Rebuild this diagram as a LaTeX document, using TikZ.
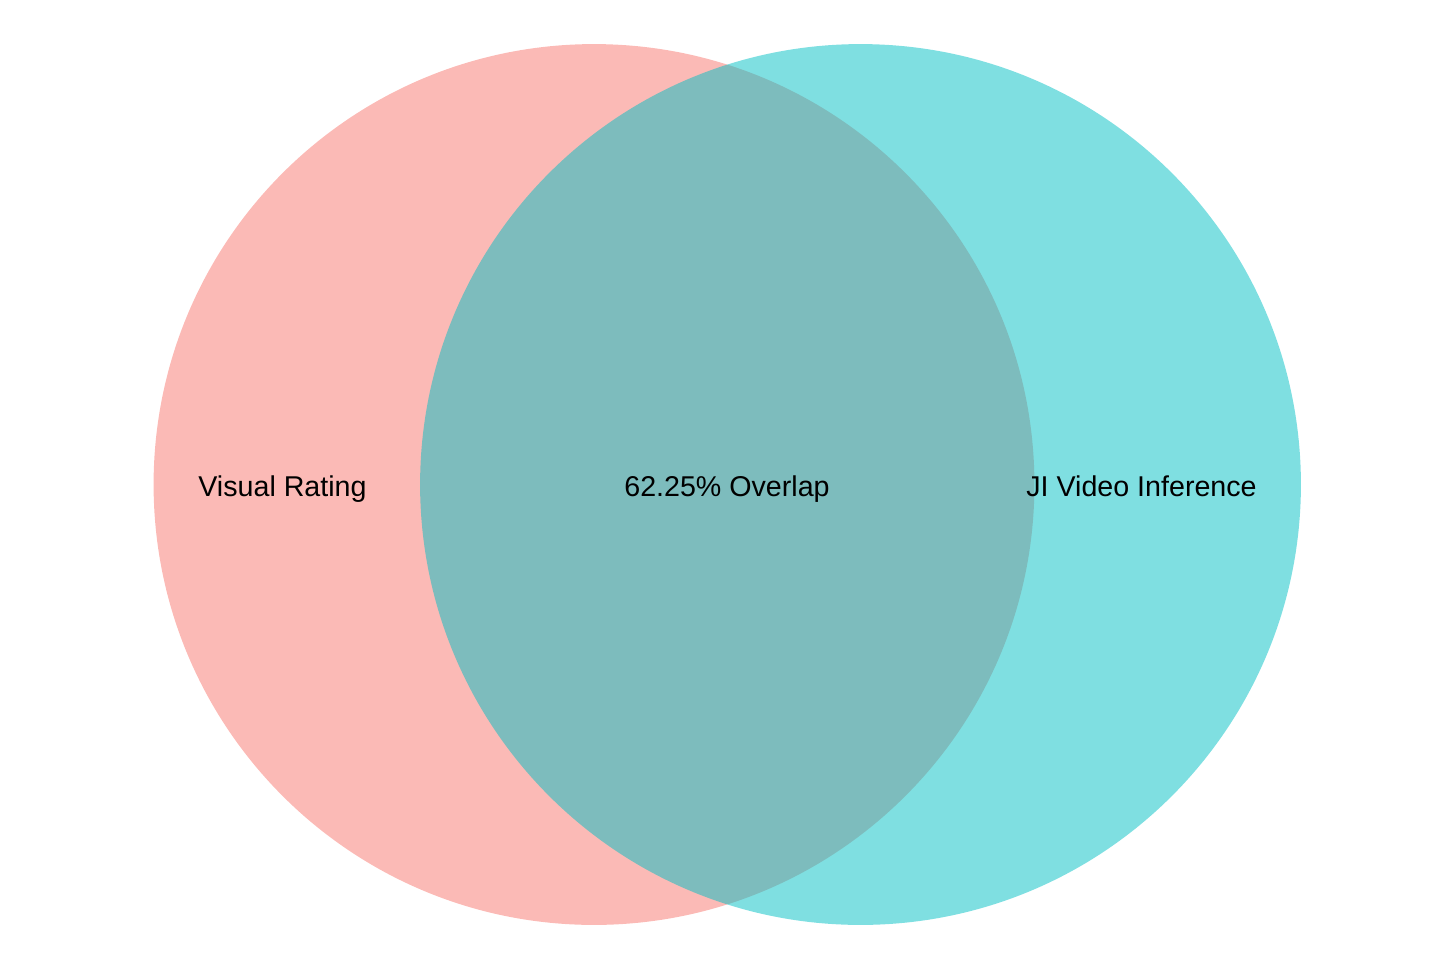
\documentclass[tikz,border=0pt]{standalone}
\usepackage{fontspec}
\setmainfont{Liberation Sans}
\usepackage{tikz}
\usetikzlibrary{positioning}
\definecolor{vrClr}{HTML}{F8766D}
\definecolor{jiClr}{HTML}{00BFC4}
\tikzset{setcirc/.style={circle, minimum size=17.62cm, inner sep=0pt, fill opacity=0.5}}
\tikzset{setlbl/.style={font=\fontsize{16.3}{19}\selectfont, text=black, anchor=base}}

\begin{document}
\begin{tikzpicture}[x=0.02cm, y=-0.02cm]
    \useasboundingbox (0,0) rectangle (1456,971);
    \node [setcirc, fill=vrClr] (vr) at (594,484.5) {};
    \node [setcirc, fill=jiClr] (ji) at (860.5,484.5) {};
    % labels
    \node [setlbl] (vrlbl) at (282.5,496) {Visual Rating};
    \node [setlbl] (ovlbl) at (727,496) {62.25\% Overlap};
    \node [setlbl] (jilbl) at (1141.5,496) {JI Video Inference};
\end{tikzpicture}
\end{document}
